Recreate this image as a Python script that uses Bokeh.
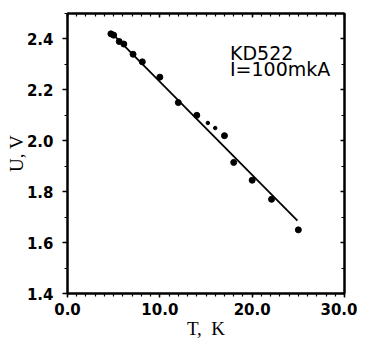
from bokeh.plotting import figure
from bokeh.models import LinearAxis, Range1d, Label, FixedTicker
from bokeh.embed import file_html
from bokeh.resources import INLINE

# ---- data ----
T_POINTS = [4.7, 5.0, 5.6, 6.1, 7.1, 8.1, 10.0, 12.0, 14.0, 17.0, 18.0, 20.0, 22.1, 25.0]
U_POINTS = [2.42, 2.415, 2.39, 2.38, 2.34, 2.31, 2.25, 2.15, 2.10, 2.02, 1.915, 1.845, 1.77, 1.65]
T_SMALL = [15.2, 16.0]
U_SMALL = [2.07, 2.05]
LINE_T = [4.6, 24.9]
LINE_U = [2.43, 1.686]

X_TICKS = [0, 10, 20, 30]
X_LABELS = ["0.0", "10.0", "20.0", "30.0"]
X_MINOR = [i for i in range(0, 31)]
Y_TICKS = [1.4, 1.6, 1.8, 2.0, 2.2, 2.4]
Y_LABELS = ["1.4", "1.6", "1.8", "2.0", "2.2", "2.4"]
Y_MINOR = [1.4, 1.5, 1.6, 1.7, 1.8, 1.9, 2.0, 2.1, 2.2, 2.3, 2.4, 2.5]

p = figure(
    frame_width=277, frame_height=280,
    x_range=Range1d(0, 30), y_range=Range1d(1.4, 2.5),
    output_backend="svg", toolbar_location=None,
    min_border_left=67, min_border_right=13, min_border_top=13, min_border_bottom=5,
    background_fill_color="white", border_fill_color="white",
)
p.grid.visible = False
p.outline_line_color = "black"
p.outline_line_width = 2

xt = FixedTicker(ticks=X_TICKS, minor_ticks=X_MINOR)
yt = FixedTicker(ticks=Y_TICKS, minor_ticks=Y_MINOR)

xa = p.xaxis[0]
xa.ticker = xt
xa.major_label_overrides = {t: l for t, l in zip(X_TICKS, X_LABELS)}
ya = p.yaxis[0]
ya.ticker = yt
ya.major_label_overrides = {t: l for t, l in zip(Y_TICKS, Y_LABELS)}

for ax in (xa, ya):
    ax.axis_line_width = 2
    ax.axis_line_color = "black"
    ax.major_tick_line_width = 1.5
    ax.minor_tick_line_width = 1.2
    ax.major_tick_in = 0
    ax.minor_tick_in = 0
    ax.major_label_text_font = "DejaVu Sans"
    ax.major_label_text_font_style = "bold"
    ax.major_label_text_font_size = "15px"
    ax.major_label_text_color = "black"
    ax.axis_label_text_font = "Liberation Serif"
    ax.axis_label_text_font_style = "normal"
    ax.axis_label_text_font_size = "19px"
    ax.axis_label_text_color = "black"

xa.axis_label = "T,\u2002K"
xa.major_tick_out = 4
xa.minor_tick_out = 3
xa.major_label_standoff = 5
xa.axis_label_standoff = 0

ya.axis_label = "U, V"
ya.major_tick_out = 5
ya.minor_tick_out = 3
ya.major_label_standoff = 9
ya.axis_label_standoff = -3

top = LinearAxis(ticker=FixedTicker(ticks=X_TICKS, minor_ticks=X_MINOR))
top.major_label_overrides = {t: "" for t in X_TICKS}
right = LinearAxis(ticker=FixedTicker(ticks=Y_TICKS, minor_ticks=Y_MINOR))
right.major_label_overrides = {t: "" for t in Y_TICKS}
for ax in (top, right):
    ax.axis_line_width = 2
    ax.major_tick_in = 4
    ax.major_tick_out = 0
    ax.minor_tick_in = 3
    ax.minor_tick_out = 0
    ax.major_tick_line_width = 1.5
    ax.minor_tick_line_width = 1.2
    ax.major_label_standoff = 0
p.add_layout(top, "above")
p.add_layout(right, "right")

p.line(LINE_T, LINE_U, line_color="black", line_width=1.8)
p.scatter(T_POINTS, U_POINTS, size=6, color="black")
p.scatter(T_SMALL, U_SMALL, size=3.5, color="black")

lab_font = "DejaVu Sans"
p.add_layout(Label(x=17.6, y=2.346, text="KD522", text_font=lab_font,
                   text_font_size="19px", text_color="black", text_baseline="alphabetic"))
p.add_layout(Label(x=17.6, y=2.283, text="I=100mkA", text_font=lab_font,
                   text_font_size="19px", text_color="black", text_baseline="alphabetic"))

open("out.html", "w").write(file_html(p, INLINE))
